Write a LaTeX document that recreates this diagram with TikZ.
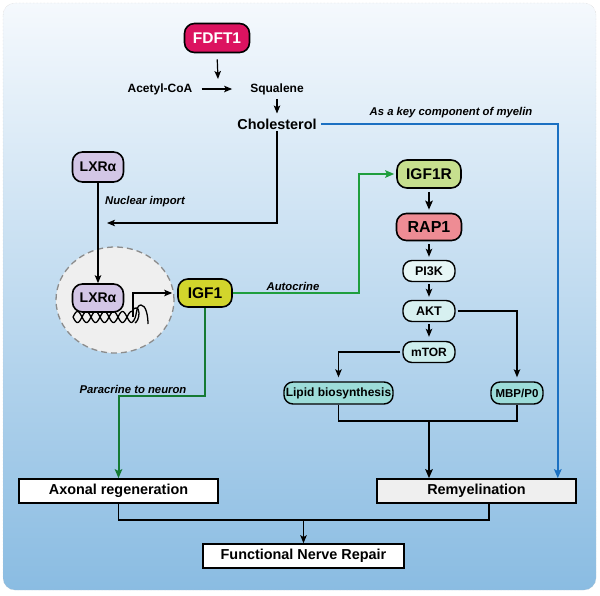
\documentclass[tikz,border=0pt]{standalone}
\usepackage{fontspec}
\setmainfont{Liberation Sans}
\usetikzlibrary{arrows.meta,shapes.geometric}

\definecolor{bgtop}{HTML}{F5F9FD}
\definecolor{bgbot}{HTML}{8ABCE2}
\definecolor{rimgray}{HTML}{C4C4C4}
\definecolor{fdftred}{HTML}{DC1360}
\definecolor{lxrpurple}{HTML}{D3C6E6}
\definecolor{igfyellow}{HTML}{D2D52C}
\definecolor{igfrgreen}{HTML}{C6DF8E}
\definecolor{rapred}{HTML}{EE8C94}
\definecolor{pifill}{HTML}{E7F6F6}
\definecolor{aktfill}{HTML}{D7F0F0}
\definecolor{mtorfill}{HTML}{CDEEEE}
\definecolor{lipidfill}{HTML}{9DDCD9}
\definecolor{nucfill}{HTML}{EFEFEF}
\definecolor{nucrim}{HTML}{8C8C8C}
\definecolor{autogreen}{HTML}{1F9E3D}
\definecolor{paragreen}{HTML}{157A33}
\definecolor{myelblue}{HTML}{1B70C2}

\tikzset{
  gene/.style={draw=black,line width=1.6pt,rounded corners=10pt,inner sep=0pt,minimum height=28pt,font=\bfseries\fontsize{15.5}{17}\selectfont},
  kinase/.style={draw=black,line width=1.4pt,rounded corners=9pt,inner sep=0pt,minimum width=52pt,minimum height=21pt,font=\bfseries\fontsize{12.5}{14}\selectfont},
  outcome/.style={draw=black,line width=1.6pt,fill=white,inner sep=0pt,minimum width=199pt,minimum height=24pt,font=\bfseries\fontsize{14.4}{16}\selectfont},
  metab/.style={inner sep=2pt,font=\bfseries\fontsize{12}{14}\selectfont},
  tag/.style={inner sep=1pt,font=\bfseries\itshape\fontsize{11.3}{13}\selectfont},
  arr/.style={line width=1.2pt,-{Stealth[length=8pt,width=6.5pt,inset=1.8pt]}},
  fatarr/.style={line width=1.9pt,-{Stealth[length=9pt,width=7.5pt,inset=1.8pt]}},
  nucleus/.style={ellipse,draw=nucrim,fill=nucfill,line width=1.3pt,dash pattern=on 6pt off 4pt,minimum width=118pt,minimum height=106pt,inner sep=0pt},
}

\begin{document}
\begin{tikzpicture}[x=1pt,y=-1pt]
\useasboundingbox (0,0) rectangle (600,595);
\shade[top color=bgtop,bottom color=bgbot,rounded corners=12pt] (3,3) rectangle (596,590);
\draw[rimgray,densely dotted,rounded corners=12pt] (3,3) rectangle (596,590);

\node[nucleus] (nuc) at (115,300) {};
\draw[line width=1.3pt] plot[domain=73:132,samples=90] (\x,{317+5.5*sin(20*(\x-73))});
\draw[line width=1.3pt] plot[domain=73:132,samples=90] (\x,{317-5.5*sin(20*(\x-73))});
\draw[line width=1.3pt] (132,322.5) .. controls (138,318) and (135,305) .. (141,305) .. controls (146,305) and (148,316) .. (148,324);
\draw[line width=1.3pt] (132,311.5) .. controls (134,306) and (139,307) .. (139,313) .. controls (139,318) and (137,322) .. (135,323);

\node[gene,fill=fdftred,text=white,minimum width=65pt,minimum height=29pt] (fdft) at (217,38) {FDFT1};
\node[metab] (acetyl) at (160,89) {Acetyl-CoA};
\node[metab] (squal) at (277,89) {Squalene};
\node[metab,font=\bfseries\fontsize{14.4}{16}\selectfont] (chol) at (277,124) {Cholesterol};
\coordinate (cat) at (218,79);
\draw[arr,shorten <=6pt] (fdft.south) -- (cat);
\draw[arr,shorten <=7pt,shorten >=16pt] (acetyl) -- (squal);
\draw[arr,shorten <=2pt,shorten >=3pt] (squal) -- (chol);

\node[gene,fill=lxrpurple,minimum width=51pt,minimum height=30pt,font=\bfseries\fontsize{14}{16}\selectfont] (lxr) at (98,167) {LXRα};
\node[gene,fill=lxrpurple,minimum width=51pt,minimum height=28pt,font=\bfseries\fontsize{14}{16}\selectfont] (lxrin) at (98,298) {LXRα};
\draw[arr] (lxr.south) -- (lxrin.north);
\coordinate (imp) at (107,223);
\draw[arr] (chol.south) |- (imp);
\node[tag] (imptag) at (145,202) {Nuclear import};

\node[gene,fill=igfyellow,minimum width=54pt] (igf) at (205,293) {IGF1};
\coordinate (tss) at (133,317);
\draw[arr,shorten >=5pt] (tss) |- (igf.west);

\node[gene,fill=igfrgreen,minimum width=64pt] (igfr) at (429,174) {IGF1R};
\node[gene,fill=rapred,minimum width=65pt,minimum height=27pt,font=\bfseries\fontsize{16}{18}\selectfont] (rap) at (429,227) {RAP1};
\node[kinase,fill=pifill] (pi) at (429,271) {PI3K};
\node[kinase,fill=aktfill] (akt) at (429,311) {AKT};
\node[kinase,fill=mtorfill,font=\bfseries\fontsize{12}{14}\selectfont] (mtor) at (429,352) {mTOR};
\node[kinase,fill=lipidfill,minimum width=109pt,minimum height=22pt,font=\bfseries\fontsize{12}{14}\selectfont] (lipid) at (338.5,393) {Lipid biosynthesis};
\node[kinase,fill=lipidfill,minimum width=52pt,minimum height=22pt,font=\bfseries\fontsize{11.5}{13}\selectfont] (mbp) at (517,393) {MBP/P0};
\draw[fatarr,shorten <=3pt,shorten >=3pt] (igfr.south) -- (rap.north);
\draw[arr,shorten <=3pt,shorten >=3pt] (rap.south) -- (pi.north);
\draw[arr,shorten <=2pt,shorten >=3pt] (pi.south) -- (akt.north);
\draw[arr,shorten <=2pt,shorten >=4pt] (akt.south) -- (mtor.north);
\draw[arr,shorten <=2pt,shorten >=4pt] (akt.east) -| (mbp.north);
\draw[arr,shorten <=2pt,shorten >=4pt] (mtor.west) -| (lipid.north);

\coordinate (auto) at (359,293);
\draw[autogreen,line width=2pt,-{Stealth[length=9pt,width=7.5pt,inset=1.8pt]},shorten >=2pt] (igf.east) -- (auto) |- (igfr.west);
\node[tag] (autotag) at (293,286) {Autocrine};

\node[outcome] (axon) at (118.5,491) {Axonal regeneration};
\node[outcome,fill=nucfill] (remy) at (476.5,491) {Remyelination};
\node[outcome,minimum width=201pt] (func) at (303.5,556) {Functional Nerve Repair};

\coordinate (para) at (118.5,396);
\draw[paragreen,line width=2pt,-{Stealth[length=9pt,width=7.5pt,inset=1.8pt]}] (igf.south) |- (para) -- (axon.north);
\node[tag] (paratag) at (133,389) {Paracrine to neuron};

\draw[myelblue,line width=2pt,-{Stealth[length=9pt,width=7.5pt,inset=1.8pt]},shorten <=2pt] (chol.east) -| ([xshift=-19pt]remy.north east);
\node[tag] (myeltag) at (451,113) {As a key component of myelin};

\coordinate (join) at (429,421);
\draw[line width=1.8pt] (lipid.south) |- (join) -| (mbp.south);
\draw[fatarr] (join) -- (join |- remy.north);

\coordinate (merge) at (303.5,520);
\draw[line width=1.5pt] (axon.south) |- (merge) -| ([xshift=12.5pt]remy.south);
\draw[arr] (merge) -- (func.north);
\end{tikzpicture}
\end{document}
